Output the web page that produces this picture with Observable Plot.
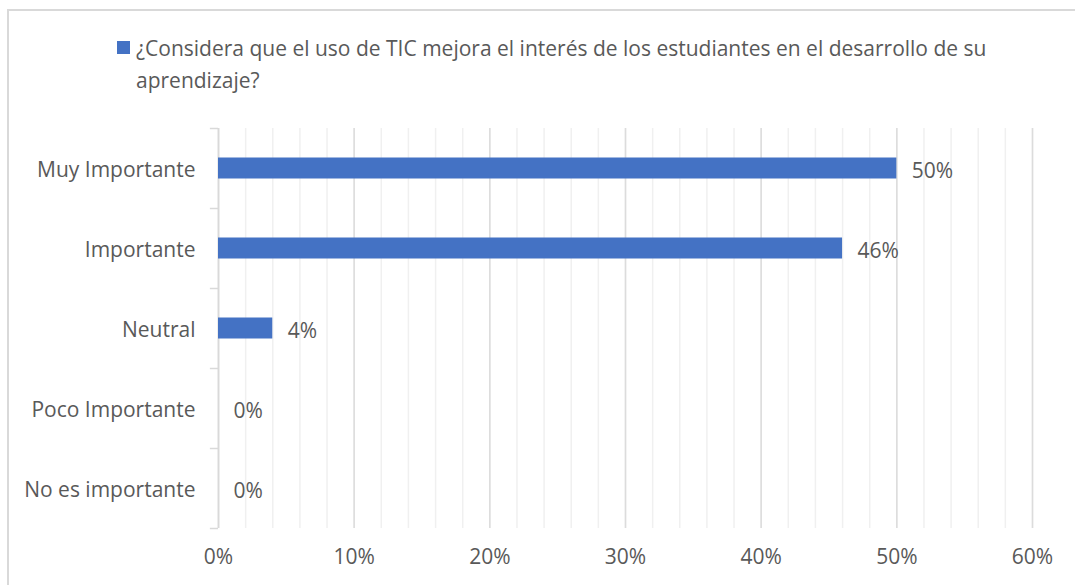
<!DOCTYPE html>
<html>
<head>
<meta charset="utf-8">
<script src="https://cdn.jsdelivr.net/npm/d3@7"></script>
<script src="https://cdn.jsdelivr.net/npm/@observablehq/plot@0.6"></script>
<style>
  html, body { margin: 0; padding: 0; background: #fff; overflow: hidden; }
  #frame { position: absolute; left: 7px; top: 9px; width: 1100px; height: 600px; border: 2px solid #d9d9d9; box-sizing: border-box; }
  #wrap { position: absolute; left: 0; top: 0; width: 1075px; height: 585px; font-family: "Open Sans", sans-serif; }
  #legend { height: 118px; position: relative; }
  #legend .sw { position: absolute; left: 117px; top: 41px; width: 13px; height: 13px; background: #4472C4; }
  #legend .tx { position: absolute; left: 136px; top: 32px; font-size: 21px; line-height: 32px; color: #595959; white-space: nowrap; }
  svg { display: block; }
</style>
</head>
<body>
<div id="frame"></div>
<div id="wrap">
  <div id="legend"><div class="sw"></div><div class="tx" id="legendText"></div></div>
  <div id="chart"></div>
</div>
<script>
const seriesName = "¿Considera que el uso de TIC mejora el interés de los estudiantes en el desarrollo de su aprendizaje?";
const seriesLines = ["¿Considera que el uso de TIC mejora el interés de los estudiantes en el desarrollo de su", "aprendizaje?"];
const categories = ["Muy Importante", "Importante", "Neutral", "Poco Importante", "No es importante"];
const values = [0.50, 0.46, 0.04, 0.00, 0.00];
const majorTicks = [0, 0.1, 0.2, 0.3, 0.4, 0.5, 0.6];
const minorTicks = d3.range(0, 31).map(i => i * 0.02);

document.getElementById("legendText").innerHTML = seriesLines.join("<br>");

const data = categories.map((c, i) => ({category: c, value: values[i]}));
const fmt = d3.format(".0%");

const chart = Plot.plot({
  width: 1075,
  height: 467,
  marginTop: 10,
  marginBottom: 57,
  marginLeft: 218,
  marginRight: 43,
  style: {fontFamily: "'Open Sans', sans-serif", fontSize: "21px", color: "#595959", background: "transparent"},
  x: {domain: [0, 0.6], label: null},
  y: {domain: categories, padding: 0, label: null},
  marks: [
    Plot.ruleX(minorTicks, {stroke: "#f0f0f0", strokeWidth: 1.5}),
    Plot.ruleX(majorTicks, {stroke: "#dcdcdc", strokeWidth: 1.5}),
    Plot.ruleX([0], {stroke: "#d9d9d9", strokeWidth: 1.5}),
    Plot.ruleY(categories, {y: d => d, x1: -0.006, x2: 0, dy: -40, stroke: "#d9d9d9", strokeWidth: 1.5}),
    Plot.ruleY([categories[categories.length - 1]], {y: d => d, x1: -0.006, x2: 0, dy: 40, stroke: "#d9d9d9", strokeWidth: 1.5}),
    Plot.axisX({ticks: majorTicks, tickFormat: fmt, tickSize: 0, tickPadding: 21, label: null, fill: "#595959"}),
    Plot.axisY({tickSize: 0, tickPadding: 23, label: null, dy: 2, fill: "#595959"}),
    Plot.barX(data, {y: "category", x: "value", fill: "#4472C4", insetTop: 29.5, insetBottom: 29.5}),
    Plot.text(data, {y: "category", x: "value", text: d => fmt(d.value), textAnchor: "start", dx: 15, dy: 3, fill: "#595959", fontSize: 21})
  ]
});
document.getElementById("chart").appendChild(chart);
</script>
</body>
</html>
